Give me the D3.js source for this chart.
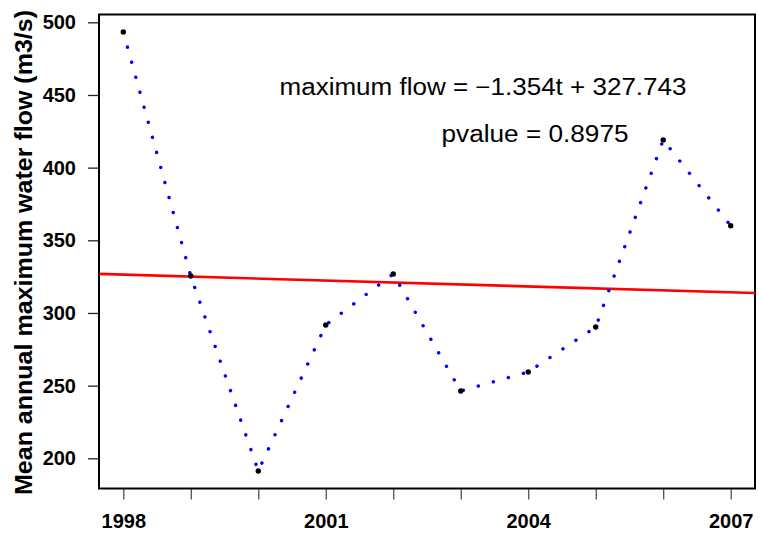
<!DOCTYPE html>
<html><head><meta charset="utf-8">
<script src="https://cdn.jsdelivr.net/npm/d3@7"></script>
<style>body{margin:0;background:#fff}svg{display:block}</style>
</head><body>
<script>
const years = [1998,1999,2000,2001,2002,2003,2004,2005,2006,2007];
const maxFlow = [493.3,325.4,191.3,291.7,326.8,246.3,259.4,290.3,419.1,360.0];
const yTicks = [200,250,300,350,400,450,500];
const xLabelYears = [1998,2001,2004,2007];
const trendSlope = -1.354, trendIntercept = 327.743;
const eqText = "maximum flow = \u22121.354t + 327.743";
const pText = "pvalue = 0.8975";
const yTitle = "Mean annual maximum water flow (m3/s)";

const W=759,H=538;
const m={l:99,t:14.5,r:4,b:49.5};
const svg=d3.select("body").append("svg").attr("width",W).attr("height",H);
const ext=d3.extent(maxFlow), pad=(ext[1]-ext[0])*0.04;
const x=d3.scaleLinear().domain([1998-0.36,2007+0.36]).range([m.l,W-m.r]);
const y=d3.scaleLinear().domain([ext[0]-pad,ext[1]+pad]).range([H-m.b,m.t]);
const font="'Liberation Sans', Arial, Helvetica, sans-serif";

// y axis
const ya=svg.append("g").attr("transform",`translate(${m.l},0)`)
  .call(d3.axisLeft(y).tickValues(yTicks).tickSize(11).tickPadding(12));
ya.select(".domain").remove();
ya.selectAll("line").attr("stroke","#222").attr("stroke-width",1.3);
ya.selectAll("text").attr("font-family",font).attr("font-weight","bold").attr("font-size",20).attr("fill","#000");

// x axis
const xa=svg.append("g").attr("transform",`translate(0,${H-m.b})`)
  .call(d3.axisBottom(x).tickValues(years).tickSize(11).tickPadding(14)
    .tickFormat(d=>xLabelYears.includes(d)?String(d):""));
xa.select(".domain").remove();
xa.selectAll("line").attr("stroke","#444").attr("stroke-width",1.2);
xa.selectAll("text").attr("font-family",font).attr("font-weight","bold").attr("font-size",20).attr("fill","#000");

// frame
svg.append("rect").attr("x",m.l).attr("y",m.t).attr("width",W-m.r-m.l).attr("height",H-m.b-m.t)
  .attr("fill","none").attr("stroke","#000").attr("stroke-width",2);

// y title
svg.append("text").attr("transform",`translate(32,252.5) rotate(-90)`)
  .attr("text-anchor","middle").attr("font-family",font).attr("font-weight","bold")
  .attr("font-size",23).attr("textLength",485).attr("lengthAdjust","spacingAndGlyphs").text(yTitle);

// trend line
const tOf = yr => yr-1997;
svg.append("line")
  .attr("x1",x.range()[0]).attr("x2",x.range()[1])
  .attr("y1",y(trendIntercept+trendSlope*tOf(x.domain()[0])))
  .attr("y2",y(trendIntercept+trendSlope*tOf(x.domain()[1])))
  .attr("stroke","#ff0000").attr("stroke-width",2.6);

// dotted line
const pts=years.map((d,i)=>[d,maxFlow[i]]);
svg.append("path").attr("d",d3.line().x(d=>x(d[0])).y(d=>y(d[1]))(pts))
  .attr("fill","none").attr("stroke","#0000ff").attr("stroke-width",3.4)
  .attr("stroke-linecap","round").attr("stroke-dasharray","0.1 15.5");

// points
svg.selectAll("circle.pt").data(pts).enter().append("circle")
  .attr("cx",d=>x(d[0])).attr("cy",d=>y(d[1])).attr("r",2.7).attr("fill","#000");

// annotations
svg.append("text").attr("x",483).attr("y",95).attr("text-anchor","middle")
  .attr("font-family",font).attr("font-size",23)
  .attr("textLength",407).attr("lengthAdjust","spacingAndGlyphs").text(eqText);
svg.append("text").attr("x",535).attr("y",142).attr("text-anchor","middle")
  .attr("font-family",font).attr("font-size",23)
  .attr("textLength",187).attr("lengthAdjust","spacingAndGlyphs").text(pText);
</script>
</body></html>
